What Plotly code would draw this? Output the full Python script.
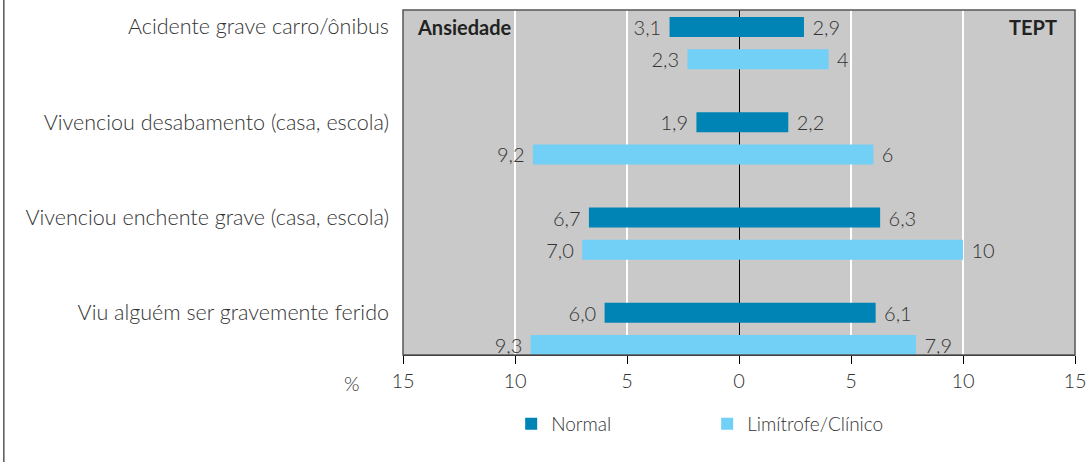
import plotly.graph_objects as go

categories = [
    "Acidente grave carro/ônibus",
    "Vivenciou desabamento (casa, escola)",
    "Vivenciou enchente grave (casa, escola)",
    "Viu alguém ser gravemente ferido",
]

# Ansiedade (left side) and TEPT (right side), in %
ansiedade_normal = [3.1, 1.9, 6.7, 6.0]
ansiedade_limitrofe = [2.3, 9.2, 7.0, 9.3]
tept_normal = [2.9, 2.2, 6.3, 6.1]
tept_limitrofe = [4, 6, 10, 7.9]

ansiedade_normal_txt = ["3,1", "1,9", "6,7", "6,0"]
ansiedade_limitrofe_txt = ["2,3", "9,2", "7,0", "9,3"]
tept_normal_txt = ["2,9", "2,2", "6,3", "6,1"]
tept_limitrofe_txt = ["4", "6", "10", "7,9"]

tick_vals = [-15, -10, -5, 0, 5, 10, 15]
tick_text = ["15", "10", "5", "0", "5", "10", "15"]

COLOR_NORMAL = "#0083b5"
COLOR_LIMITROFE = "#72cff5"
FONT = "Lato"
TEXT_COLOR = "#333333"

pos_normal = list(range(len(categories)))
pos_limitrofe = [p + 0.338 for p in pos_normal]
BAR_W = 0.21

fig = go.Figure()


def add_bars(vals, labels, pos, color, name, legend, negative):
    fig.add_trace(go.Bar(
        x=[-v if negative else v for v in vals],
        y=pos,
        orientation="h",
        width=BAR_W,
        marker=dict(color=color, line=dict(width=0)),
        text=labels,
        texttemplate="%{text} " if negative else " %{text}",
        textposition="outside",
        constraintext="none",
        cliponaxis=False,
        textfont=dict(family=FONT, size=20, color=TEXT_COLOR, weight=300),
        name=name,
        legendgroup=name,
        showlegend=legend,
        hoverinfo="x+name",
    ))


add_bars(ansiedade_normal, ansiedade_normal_txt, pos_normal, COLOR_NORMAL, "Normal", True, True)
add_bars(tept_normal, tept_normal_txt, pos_normal, COLOR_NORMAL, "Normal", False, False)
add_bars(ansiedade_limitrofe, ansiedade_limitrofe_txt, pos_limitrofe, COLOR_LIMITROFE, "Limítrofe/Clínico", True, True)
add_bars(tept_limitrofe, tept_limitrofe_txt, pos_limitrofe, COLOR_LIMITROFE, "Limítrofe/Clínico", False, False)

fig.update_xaxes(
    range=[-15, 15],
    tickvals=tick_vals,
    ticktext=tick_text,
    tickfont=dict(family=FONT, size=20, color=TEXT_COLOR, weight=300),
    showgrid=True,
    gridcolor="white",
    gridwidth=1.5,
    zeroline=True,
    zerolinecolor="black",
    zerolinewidth=1,
    showline=True,
    linecolor="black",
    linewidth=1,
    ticks="outside",
    tickcolor="black",
    ticklen=8,
    automargin=False,
    fixedrange=True,
)
fig.update_yaxes(
    range=[3.443, -0.178],
    tickvals=pos_normal,
    ticktext=categories,
    tickfont=dict(family=FONT, size=21.5, color=TEXT_COLOR, weight=300),
    showgrid=False,
    zeroline=False,
    ticks="",
    ticklabelstandoff=13,
    automargin=False,
    fixedrange=True,
)

# frame of the plot area
fig.add_shape(type="rect", xref="paper", yref="paper", x0=0, x1=1, y0=0, y1=1,
              line=dict(color="#555555", width=1.5), layer="above")
# left border of the figure
fig.add_shape(type="line", xref="paper", yref="paper", x0=-0.594, x1=-0.594,
              y0=-0.32, y1=1.04, line=dict(color="#555555", width=1.5))

fig.add_annotation(text="<b>Ansiedade</b>", xref="paper", yref="paper", x=0.018, y=0.95,
                   xanchor="left", yanchor="middle", showarrow=False,
                   font=dict(family=FONT, size=20, color="#222222"))
fig.add_annotation(text="<b>TEPT</b>", xref="paper", yref="paper", x=0.976, y=0.95,
                   xanchor="right", yanchor="middle", showarrow=False,
                   font=dict(family=FONT, size=20, color="#222222"))
fig.add_annotation(text="%", xref="paper", yref="paper", x=-0.076, y=-0.081,
                   xanchor="center", yanchor="middle", showarrow=False,
                   font=dict(family=FONT, size=20, color=TEXT_COLOR, weight=300))

fig.update_layout(
    width=1088,
    height=462,
    margin=dict(l=403, r=13, t=10, b=107),
    paper_bgcolor="white",
    plot_bgcolor="#c9c9c9",
    barmode="overlay",
    showlegend=True,
    legend=dict(
        orientation="h",
        x=0.161,
        y=-0.2,
        xanchor="left",
        yanchor="middle",
        entrywidth=151,
        entrywidthmode="pixels",
        itemwidth=30,
        font=dict(family=FONT, size=19, color=TEXT_COLOR, weight=300),
        bgcolor="rgba(0,0,0,0)",
    ),
)

# page body has a default 8px margin and may show scrollbars; drop both
fig.write_html(
    "out.html",
    config={"displayModeBar": False},
    post_script=(
        "document.body.style.margin='0';"
        "document.body.style.overflow='hidden';"
        "document.documentElement.style.overflow='hidden';"
    ),
)
